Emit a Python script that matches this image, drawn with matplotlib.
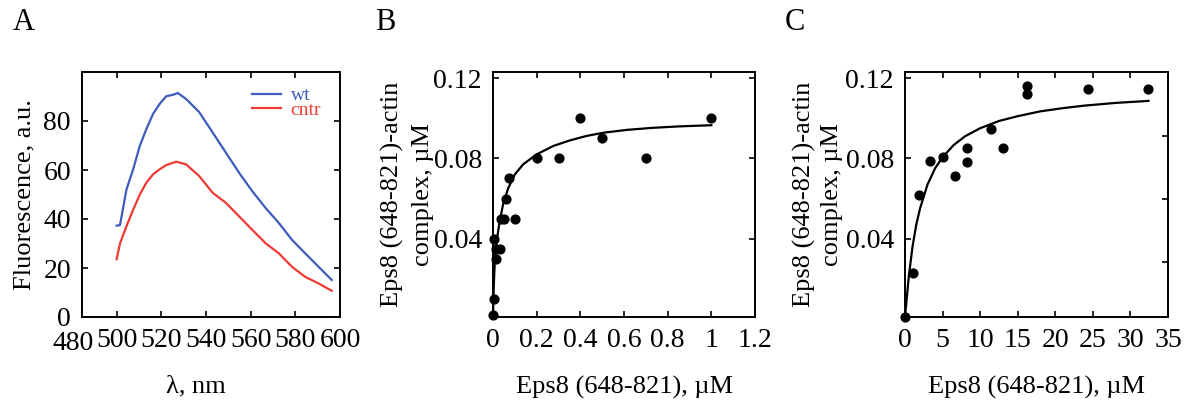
import matplotlib
matplotlib.use('Agg')
import matplotlib.pyplot as plt
import matplotlib.transforms as mtransforms

plt.rcParams['font.family'] = ['Liberation Serif', 'DejaVu Serif']

# panel A: emission spectra
wl_wt = [500, 501.5, 504.4, 507.4, 510.4, 513.3, 516.3, 519.3, 522.2, 525.2, 527.4,
         531.1, 537, 543, 548.9, 554.8, 560.7, 566.7, 572.6, 578.5, 584.4, 590.4, 596.3]
fl_wt = [37.3, 37.5, 52, 60.3, 69.9, 76.7, 82.9, 87, 90.1, 90.7, 91.4,
         89, 83.6, 75.3, 67.1, 58.9, 51.4, 44.5, 38.4, 31.5, 26, 20.5, 15.1]
wl_cntr = [500, 501.5, 504.4, 507.4, 510.4, 513.3, 516.3, 519.3, 522.2, 526.7,
           531.1, 537, 543, 548.9, 554.8, 560.7, 566.7, 572.6, 578.5, 584.4, 590.4, 596.3]
fl_cntr = [23.6, 30, 37, 43.8, 50, 54.8, 58.2, 60.3, 62, 63.4,
           62.3, 57.5, 50.7, 46.6, 41.1, 35.6, 30.1, 26, 20.5, 16.4, 13.7, 10.7]

# panel B: binding, 0-1 uM
b_x = [0, 0.003, 0.005, 0.012, 0.012, 0.03, 0.035, 0.05, 0.058, 0.071, 0.1,
       0.2, 0.3, 0.4, 0.5, 0.7, 1.0]
b_y = [0.002, 0.01, 0.04, 0.03, 0.035, 0.035, 0.05, 0.05, 0.06, 0.07, 0.05,
       0.08, 0.08, 0.1, 0.09, 0.08, 0.1]
b_fit_x = [0, 0.002, 0.004, 0.008, 0.012, 0.02, 0.028, 0.046, 0.069, 0.1, 0.138,
           0.2, 0.277, 0.354, 0.43, 0.508, 0.615, 0.732, 0.85, 1.0]
b_fit_y = [0.001, 0.01, 0.018, 0.028, 0.034, 0.041, 0.047, 0.057, 0.065, 0.072, 0.077,
           0.082, 0.0862, 0.089, 0.0912, 0.0928, 0.0942, 0.0952, 0.0959, 0.0965]

# panel C: binding, 0-32 uM
c_x = [0, 1.0, 1.8, 3.3, 5.0, 6.6, 8.2, 8.2, 11.4, 13.1, 16.3, 16.3, 24.4, 32.4]
c_y = [0.001, 0.023, 0.062, 0.0787, 0.0805, 0.0713, 0.085, 0.078, 0.0945, 0.085,
       0.116, 0.112, 0.1145, 0.1145]
c_fit_x = [0, 0.25, 0.5, 1, 1.5, 2, 3, 4, 5, 6.5, 8, 10, 12.5, 15, 18, 21, 24, 28, 32.4]
c_fit_y = [0.001, 0.011, 0.021, 0.036, 0.047, 0.055, 0.067, 0.075, 0.0806, 0.0867,
           0.091, 0.095, 0.0986, 0.101, 0.1034, 0.105, 0.1063, 0.1076, 0.1086]

FS = 20      # tick labels
LFS = 19     # axis labels
W, H = 1198, 403
fig = plt.figure(figsize=(W / 100, H / 100), dpi=100)


def frame(ax):
    for s in ax.spines.values():
        s.set_linewidth(1.4)
    ax.tick_params(direction='in', length=4, width=1.2, top=True, right=True,
                   labelsize=FS, pad=8)


# ---- A ----
axA = fig.add_axes([82 / W, 1 - 317 / H, 258 / W, 245 / H])
axA.plot(wl_wt, fl_wt, color='#3d5cbd', lw=1.6, label='wt')
axA.plot(wl_cntr, fl_cntr, color='#ee3a33', lw=1.6, label='cntr')
axA.set_xlim(484.5, 600)
axA.set_ylim(0, 100)
axA.set_xticks([500, 520, 540, 560, 580, 600])
axA.set_yticks([0, 20, 40, 60, 80, 100])
axA.set_yticklabels(['0', '20', '40', '60', '80', ''])
frame(axA)
# 480 sits just left of the frame in the original
trA = mtransforms.blended_transform_factory(axA.transData, axA.transAxes)
axA.text(480.5, 0, '480',
         transform=trA + mtransforms.ScaledTranslation(0, -10 / 72, fig.dpi_scale_trans),
         ha='center', va='top', fontsize=FS, clip_on=False)
axA.set_ylabel('Fluorescence, a.u.', fontsize=LFS)
axA.yaxis.set_label_coords(-0.18, 0.5)
axA.set_xlabel('λ, nm', fontsize=LFS)
axA.xaxis.set_label_coords(0.44, -0.24)
axA.legend(loc='upper right', bbox_to_anchor=(0.98, 0.995), frameon=False,
           fontsize=14, handlelength=1.5, handletextpad=0.5,
           labelspacing=-0.15, labelcolor='linecolor', borderpad=0.2)
fig.text(13 / W, 1 - 22 / H, 'A', fontsize=22, va='center', ha='left')


def binding(ax, xs, ys, fx, fy, xlim, xticks, xlabels, ylx, lsp):
    ax.plot(fx, fy, color='black', lw=1.6)
    ax.scatter(xs, ys, s=40, color='black', zorder=3, clip_on=False)
    ax.set_xlim(*xlim)
    ax.set_ylim(0.001, 0.123)
    ax.set_xticks(xticks)
    ax.set_xticklabels(xlabels)
    ax.set_yticks([0.04, 0.08, 0.12])
    ax.set_yticklabels(['0.04', '0.08', '0.12'])
    frame(ax)
    ax.set_xlabel('Eps8 (648-821), µM', fontsize=LFS)
    ax.xaxis.set_label_coords(0.5, -0.24)
    ax.set_ylabel('Eps8 (648-821)-actin\ncomplex, µM', fontsize=LFS,
                  linespacing=lsp)
    ax.yaxis.set_label_coords(ylx, 0.5)


# ---- B ----
axB = fig.add_axes([493 / W, 1 - 317 / H, 262 / W, 245 / H])
binding(axB, b_x, b_y, b_fit_x, b_fit_y, (0, 1.2),
        [0, 0.2, 0.4, 0.6, 0.8, 1.0, 1.2],
        ['0', '0.2', '0.4', '0.6', '0.8', '1', '1.2'], -0.225, 1.5)
fig.text(375 / W, 1 - 22 / H, 'B', fontsize=22, va='center', ha='left')

# ---- C ----
axC = fig.add_axes([905 / W, 1 - 317 / H, 263 / W, 245 / H])
binding(axC, c_x, c_y, c_fit_x, c_fit_y, (0, 35),
        [0, 5, 10, 15, 20, 25, 30, 35],
        ['0', '5', '10', '15', '20', '25', '30', '35'], -0.235, 1.3)
axC.tick_params(right=False)
axC2 = axC.twinx()
axC2.set_ylim(axC.get_ylim())
axC2.set_yticks([0.0283, 0.06, 0.0913])
axC2.tick_params(direction='in', length=4, width=1.2, labelright=False)
for s in axC2.spines.values():
    s.set_visible(False)
fig.text(785 / W, 1 - 22 / H, 'C', fontsize=22, va='center', ha='left')

fig.savefig('out.png', dpi=100)
